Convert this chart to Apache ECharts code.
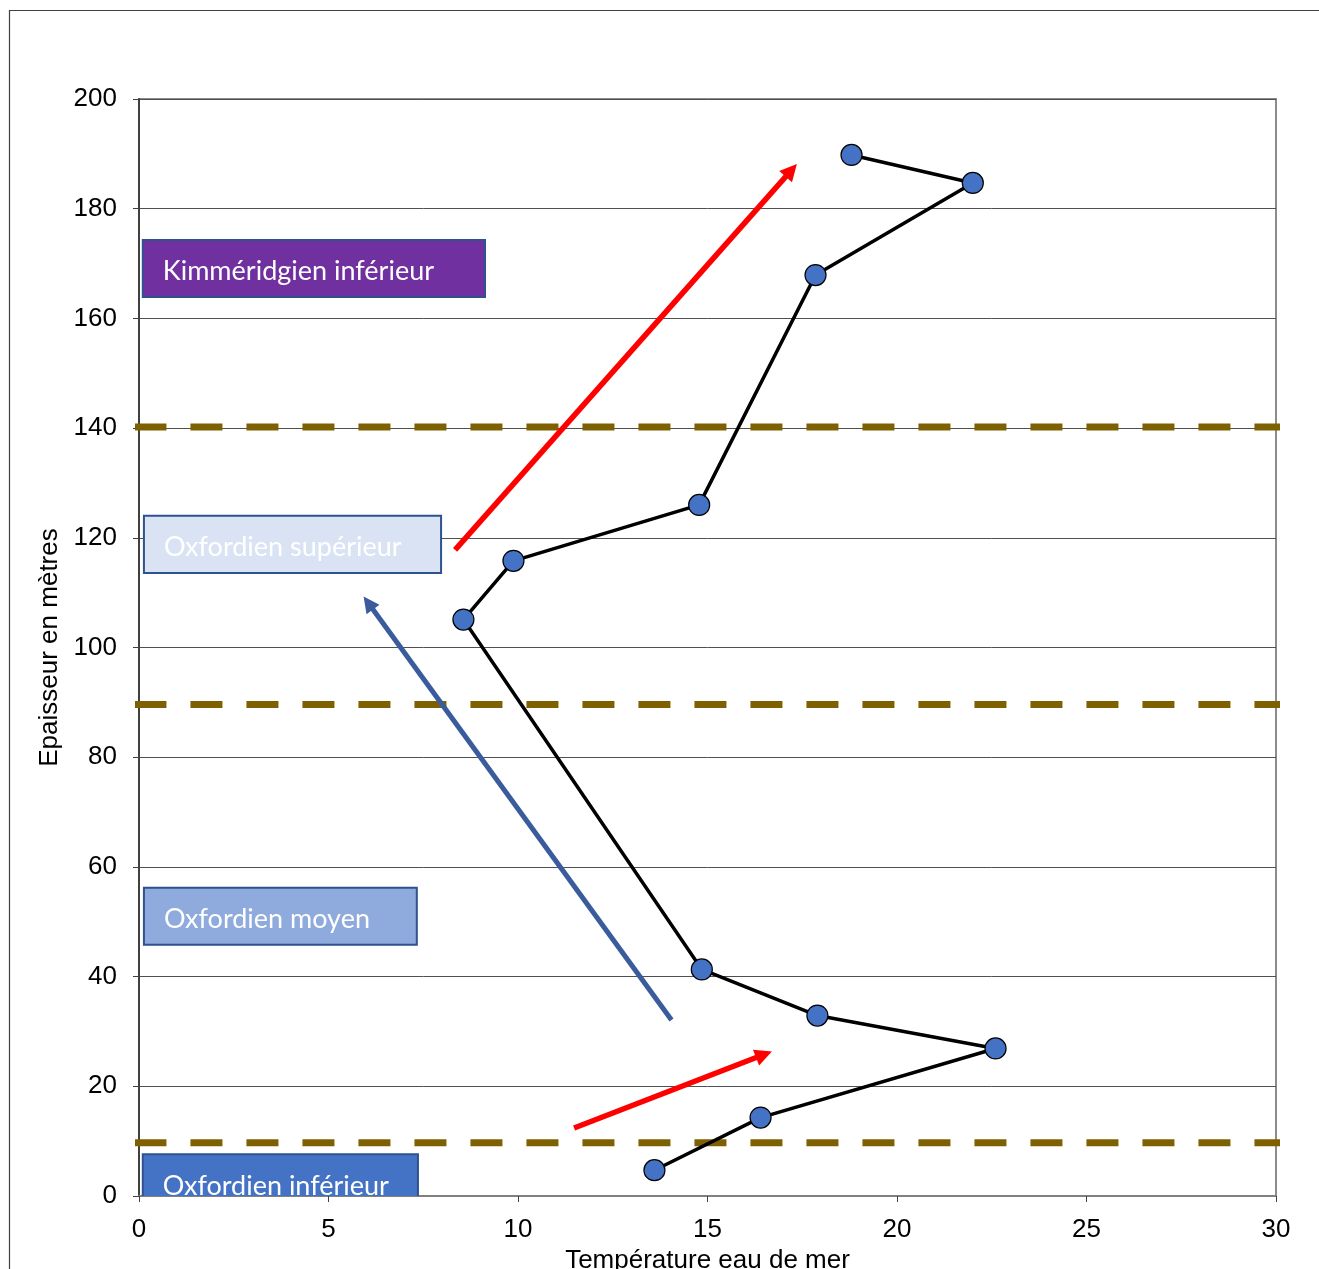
<!DOCTYPE html>
<html>
<head>
<meta charset="utf-8">
<script src="https://cdn.jsdelivr.net/npm/echarts@6/dist/echarts.min.js"></script>
<style>
html,body{margin:0;padding:0;background:#fff;}
#chart{width:1319px;height:1269px;}
</style>
</head>
<body>
<div id="chart"></div>
<script>
// Data: temperature (x) vs thickness (y)
const temperature = [13.6, 16.4, 22.6, 17.9, 14.85, 8.56, 9.88, 14.78, 17.85, 22.0, 18.8];
const thickness   = [4.7, 14.3, 26.9, 32.9, 41.3, 105.1, 115.8, 126.0, 167.9, 184.7, 189.8];

// Stage boundaries (thickness in m)
const boundaries = [140.2, 89.6, 9.7];

// Arrows (shaft start -> arrow-head centre): [x0, y0, x1, y1]
const redArrows = [[8.34, 117.8, 17.21, 187.0], [11.48, 12.4, 16.49, 25.8]];
const blueArrows = [[14.05, 32.1, 6.05, 108.1]];

// Stage label boxes: [x0, yTop, x1, yBottom]
const stageNames = ['Kimméridgien inférieur', 'Oxfordien supérieur', 'Oxfordien moyen', 'Oxfordien inférieur'];
const stageBoxes = [[0.1, 174.3, 9.13, 163.9], [0.13, 124.0, 7.97, 113.6], [0.13, 56.2, 7.33, 45.8], [0.1, 7.6, 7.36, -2.8]];
const stageFills = ['#7030a0', '#dae3f3', '#8faadc', '#4472c4'];

const xTicks = [0, 5, 10, 15, 20, 25, 30];
const yTicks = [0, 20, 40, 60, 80, 100, 120, 140, 160, 180, 200];

const chart = echarts.init(document.getElementById('chart'));

const series = [];
boundaries.forEach(b => {
  series.push({
    type: 'line', clip: false, symbol: 'none', silent: true, z: 3,
    data: [[-0.12, b], [30.12, b]],
    lineStyle: {color: '#7f6000', width: 7, type: [32, 24]}
  });
});
series.push({
  type: 'lines', coordinateSystem: 'cartesian2d', z: 4, silent: true,
  symbol: ['none', 'triangle'], symbolSize: [16, 17],
  lineStyle: {color: '#ff0000', width: 5.5, opacity: 1},
  data: redArrows.map(a => ({coords: [[a[0], a[1]], [a[2], a[3]]]}))
});
series.push({
  type: 'lines', coordinateSystem: 'cartesian2d', z: 4, silent: true,
  symbol: ['none', 'triangle'], symbolSize: [15, 16],
  lineStyle: {color: '#3a5c9c', width: 5, opacity: 1},
  data: blueArrows.map(a => ({coords: [[a[0], a[1]], [a[2], a[3]]]}))
});
series.push({
  type: 'line', z: 5,
  data: temperature.map((t, i) => [t, thickness[i]]),
  symbol: 'circle', symbolSize: 21,
  lineStyle: {color: '#000', width: 3.5},
  itemStyle: {color: '#4472c4', borderColor: '#000', borderWidth: 1.2}
});
series.push({
  type: 'custom', z: 6, clip: true, silent: true,
  data: stageBoxes,
  renderItem: function (params, api) {
    const p0 = api.coord([api.value(0), api.value(1)]);
    const p1 = api.coord([api.value(2), api.value(3)]);
    const i = params.dataIndex;
    return {
      type: 'group',
      children: [{
        type: 'rect',
        shape: {x: p0[0], y: p0[1], width: p1[0] - p0[0], height: p1[1] - p0[1]},
        style: {fill: stageFills[i], stroke: '#2f528f', lineWidth: 2}
      }, {
        type: 'text',
        style: {
          text: stageNames[i], x: p0[0] + 20, y: (p0[1] + p1[1]) / 2 + 3,
          verticalAlign: 'middle', align: 'left',
          fill: '#ffffff', font: '27px Lato'
        }
      }]
    };
  }
});

chart.setOption({
  animation: false,
  backgroundColor: '#fff',
  graphic: [{
    type: 'rect', shape: {x: 9.5, y: 10.5, width: 1400, height: 1400},
    style: {fill: 'none', stroke: '#404040', lineWidth: 1.2}, z: -1, silent: true
  }],
  grid: {left: 139, right: 43, top: 99, bottom: 73, show: true, borderColor: '#8c8c8c', borderWidth: 2, backgroundColor: 'transparent', outerBoundsMode: 'none', containLabel: false},
  xAxis: {
    type: 'value', min: xTicks[0], max: xTicks[xTicks.length - 1], interval: 5,
    name: 'Température eau de mer', nameLocation: 'middle', nameGap: 44,
    nameTextStyle: {fontFamily: 'Liberation Sans', fontSize: 26, color: '#000'},
    axisLine: {show: true, lineStyle: {color: '#808080', width: 2}},
    axisTick: {show: true, length: 6, lineStyle: {color: '#404040', width: 1}},
    axisLabel: {fontFamily: 'Liberation Sans', fontSize: 26, color: '#000', margin: 21},
    splitLine: {show: false}
  },
  yAxis: {
    type: 'value', min: yTicks[0], max: yTicks[yTicks.length - 1], interval: 20,
    name: 'Epaisseur en mètres', nameLocation: 'middle', nameGap: 74,
    nameTextStyle: {fontFamily: 'Liberation Sans', fontSize: 26, color: '#000'},
    axisLine: {show: true, lineStyle: {color: '#404040', width: 2}},
    axisTick: {show: true, length: 6, lineStyle: {color: '#404040', width: 1}},
    axisLabel: {fontFamily: 'Liberation Sans', fontSize: 26, color: '#000', margin: 22},
    splitLine: {show: true, lineStyle: {color: '#505050', width: 1}}
  },
  series: series
});
</script>
</body>
</html>
